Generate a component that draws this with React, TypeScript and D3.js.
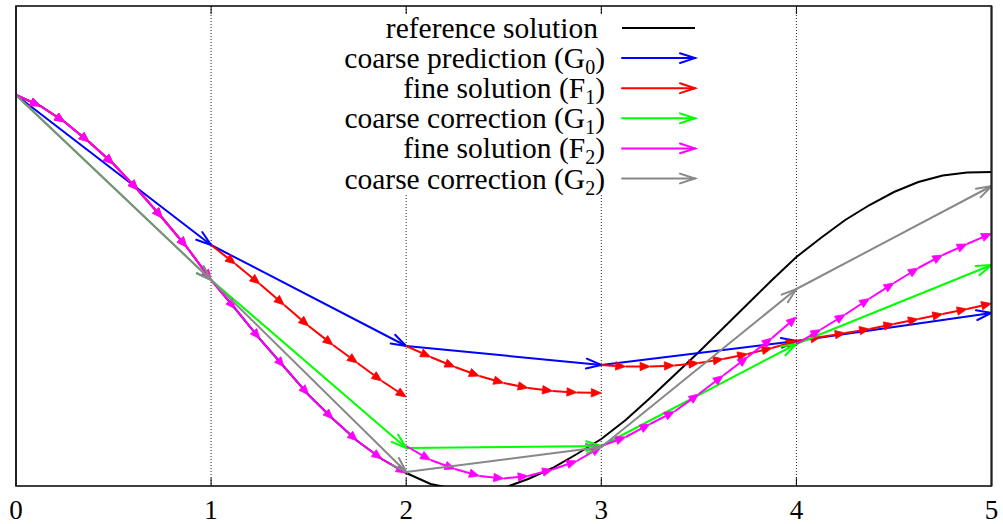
import React from 'react';
import * as d3 from 'd3';

const width = 1003, height = 524;
const margin = { top: 6, right: 11.5, bottom: 38, left: 16 };

// time slices (coarse grid) and fine sub-steps inside one slice
const slices = [0, 1, 2, 3, 4, 5];
const subSteps = [0, 0.125, 0.25, 0.375, 0.5, 0.625, 0.75, 0.875, 1];
const xTickLabels = ['0', '1', '2', '3', '4', '5'];

// reference solution, sampled at every fine step (t = 0 .. 5)
const reference = [
  3.91, 3.80, 3.64, 3.44, 3.22, 2.96, 2.68, 2.39, 2.06,
  1.77, 1.47, 1.19, 0.91, 0.67, 0.45, 0.27, 0.13,
  0.02, -0.03, -0.04, -0.02, 0.07, 0.18, 0.32, 0.47,
  0.66, 0.88, 1.11, 1.34, 1.58, 1.82, 2.06, 2.29,
  2.48, 2.66, 2.81, 2.94, 3.04, 3.105, 3.135, 3.14,
];

// coarse propagator values at the slice boundaries
const coarseG0 = [3.91, 2.41, 1.40, 1.21, 1.45, 1.73];
const coarseG1 = [3.91, 2.06, 0.38, 0.40, 1.42, 2.21];
const coarseG2 = [3.91, 2.06, 0.14, 0.39, 1.97, 3.00];

// fine propagator, one row per slice
const fineF1 = [
  [3.91, 3.80, 3.64, 3.44, 3.22, 2.96, 2.68, 2.39, 2.06],
  [2.41, 2.22, 2.02, 1.81, 1.60, 1.41, 1.23, 1.05, 0.89],
  [1.40, 1.29, 1.19, 1.10, 1.03, 0.98, 0.95, 0.935, 0.93],
  [1.21, 1.195, 1.195, 1.205, 1.23, 1.27, 1.32, 1.38, 1.45],
  [1.45, 1.49, 1.53, 1.57, 1.62, 1.67, 1.72, 1.77, 1.825],
];
const fineF2 = [
  [3.91, 3.80, 3.64, 3.44, 3.22, 2.96, 2.68, 2.39, 2.06],
  [2.06, 1.77, 1.47, 1.19, 0.91, 0.67, 0.45, 0.27, 0.13],
  [0.40, 0.26, 0.17, 0.10, 0.075, 0.10, 0.165, 0.25, 0.39],
  [0.40, 0.49, 0.62, 0.745, 0.92, 1.105, 1.29, 1.48, 1.69],
  [1.42, 1.565, 1.715, 1.875, 2.03, 2.18, 2.31, 2.42, 2.525],
];

const legendItems = [
  { label: 'reference solution', sub: '', color: '#000000', arrow: false },
  { label: 'coarse prediction (G', sub: '0', color: '#0000ff', arrow: true },
  { label: 'fine solution (F', sub: '1', color: '#ff0000', arrow: true },
  { label: 'coarse correction (G', sub: '1', color: '#00ff00', arrow: true },
  { label: 'fine solution (F', sub: '2', color: '#ff00ff', arrow: true },
  { label: 'coarse correction (G', sub: '2', color: '#888888', arrow: true },
];

const font = 'Liberation Serif, DejaVu Serif, serif';

// barbs of an arrow head ending at (x2, y2)
function barbs(x1: number, y1: number, x2: number, y2: number, len: number, half: number) {
  const a = Math.atan2(y2 - y1, x2 - x1);
  const c = Math.cos(a), s = Math.sin(a);
  const bx = x2 - len * c, by = y2 - len * s;
  return {
    l: [bx + half * s, by - half * c],
    r: [bx - half * s, by + half * c],
    base: [bx, by],
  };
}

const CoarseArrow = ({ x1, y1, x2, y2, color }: any) => {
  const b = barbs(x1, y1, x2, y2, 15, 4.9);
  return (
    <g stroke={color} strokeWidth={2} fill="none" strokeLinecap="round">
      <line x1={x1} y1={y1} x2={x2} y2={y2} />
      <path d={`M${b.l[0]},${b.l[1]}L${x2},${y2}L${b.r[0]},${b.r[1]}`} />
    </g>
  );
};

const FineArrow = ({ x1, y1, x2, y2, color }: any) => {
  const b = barbs(x1, y1, x2, y2, 10, 4.2);
  return (
    <g>
      <line x1={x1} y1={y1} x2={b.base[0]} y2={b.base[1]} stroke={color} strokeWidth={2} />
      <path d={`M${b.l[0]},${b.l[1]}L${x2},${y2}L${b.r[0]},${b.r[1]}Z`} fill={color} stroke={color} strokeWidth={0.8} />
    </g>
  );
};

export default function App() {
  const x = d3.scaleLinear().domain([0, 5]).range([margin.left, width - margin.right]);
  const y = d3.scaleLinear().domain([0, 4.8]).range([height - margin.bottom, margin.top]);
  const x0 = margin.left, x1 = width - margin.right;
  const y0 = height - margin.bottom, y1 = margin.top;

  // reference times: every fine step across all slices
  const refT: number[] = [];
  slices.slice(0, -1).forEach((s, i) => {
    subSteps.forEach((d, j) => { if (i === 0 || j > 0) refT.push(s + d); });
  });
  const refLine = d3.line<number>().x((_, i) => x(refT[i])).y(d => y(d));

  const coarse = (vals: number[], color: string) =>
    vals.slice(1).map((v, i) => (
      <CoarseArrow key={i} color={color}
        x1={x(slices[i])} y1={y(vals[i])} x2={x(slices[i + 1])} y2={y(v)} />
    ));

  const fine = (rows: number[][], color: string) =>
    rows.map((row, si) =>
      row.slice(1).map((v, j) => (
        <FineArrow key={`${si}-${j}`} color={color}
          x1={x(slices[si] + subSteps[j])} y1={y(row[j])}
          x2={x(slices[si] + subSteps[j + 1])} y2={y(v)} />
      )));

  const inner = slices.slice(1, -1);
  const textStyle = { fontFamily: font };

  return (
    <svg width={width} height={height} style={{ position: 'absolute', left: 0, top: 0, background: '#fff' }}>
      <defs>
        <clipPath id="plot">
          <rect x={x0} y={y1} width={x1 - x0} height={y0 - y1} />
        </clipPath>
      </defs>

      {/* dotted grid at slice boundaries */}
      {inner.map(t => (
        <line key={t} x1={x(t)} x2={x(t)} y1={y1} y2={y0} stroke="#222" strokeWidth={1} strokeDasharray="1 2" />
      ))}
      {/* ticks top and bottom */}
      {inner.map(t => (
        <g key={'tk' + t} stroke="#000" strokeWidth={1}>
          <line x1={x(t)} x2={x(t)} y1={y0} y2={y0 - 8} />
          <line x1={x(t)} x2={x(t)} y1={y1} y2={y1 + 8} />
        </g>
      ))}

      {/* key box is opaque */}
      <rect x={336} y={14} width={366} height={180} fill="#fff" />

      <g clipPath="url(#plot)">
        <path d={refLine(reference) || ''} fill="none" stroke="#000" strokeWidth={2} />
        {coarse(coarseG0, '#0000ff')}
        {fine(fineF1, '#ff0000')}
        {coarse(coarseG1, '#00ff00')}
        {fine(fineF2, '#ff00ff')}
        {coarse(coarseG2, '#888888')}
      </g>

      {/* frame */}
      <rect x={x0} y={y1} width={x1 - x0} height={y0 - y1} fill="none" stroke="#000" strokeWidth={1.5} />
      <line x1={x0} x2={x0} y1={y1} y2={y0} stroke="#222" strokeWidth={2} />
      <line x1={x1} x2={x1} y1={y1} y2={y0} stroke="#222" strokeWidth={2} />

      {/* x tick labels */}
      {slices.map((t, i) => (
        <text key={t} x={x(t)} y={519} textAnchor="middle" fontSize={27} style={textStyle}>{xTickLabels[i]}</text>
      ))}

      {/* legend */}
      {legendItems.map((it, i) => {
        const ly = 28 + i * 30.1;
        return (
          <g key={i}>
            <text x={it.sub ? 605 : 598} y={ly + 10} textAnchor="end" fontSize={29.5} style={textStyle}>
              {it.label}
              {it.sub && <tspan dy={6} fontSize={20}>{it.sub}</tspan>}
              {it.sub && <tspan dy={-6}>)</tspan>}
            </text>
            {it.arrow
              ? <CoarseArrow x1={622} y1={ly} x2={695} y2={ly} color={it.color} />
              : <line x1={622} x2={695} y1={ly} y2={ly} stroke={it.color} strokeWidth={2} />}
          </g>
        );
      })}
    </svg>
  );
}
